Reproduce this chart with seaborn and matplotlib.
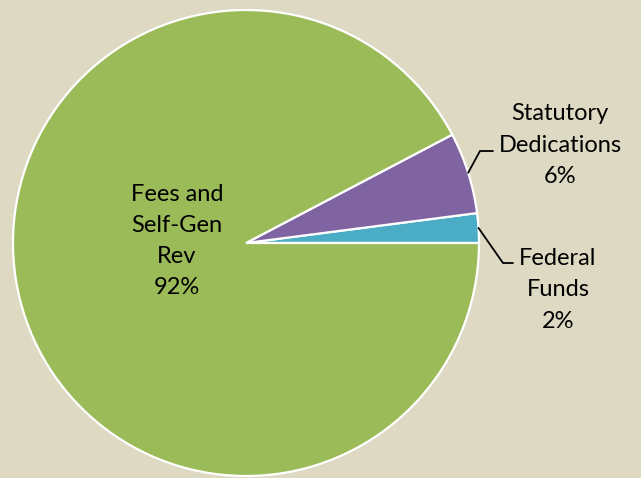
import numpy as np
import matplotlib
matplotlib.use("Agg")
import matplotlib.pyplot as plt
import seaborn as sns

sns.set_theme(style="white")
plt.rcParams['font.family'] = ['Lato', 'DejaVu Sans']

categories = ["Federal\nFunds", "Statutory\nDedications", "Fees and\nSelf-Gen\nRev"]
values = [2.05, 5.65, 92.3]
pct_labels = ["2%", "6%", "92%"]
colors = ["#4BACC6", "#8064A2", "#9BBB59"]
bg = "#DDD9C3"

W, H = 641, 478
fig = plt.figure(figsize=(W / 100, H / 100), dpi=100, facecolor=bg)
cx, cy, r = 246, 243, 233
ax = fig.add_axes([(cx - r) / W, (H - cy - r) / H, 2 * r / W, 2 * r / H])
ax.set_facecolor(bg)

wedges, _ = ax.pie(values, colors=colors, startangle=0, counterclock=True,
                   radius=1.0, wedgeprops=dict(edgecolor="white", linewidth=1.6))
ax.set_xlim(-1, 1)
ax.set_ylim(-1, 1)
ax.set_aspect("equal")
ax.axis("off")

def px(x, y):
    # convert pixel offsets (relative to reference image) into data units
    return (x - cx) / r, (cy - y) / r

fs = 17
ls = 1.6
# Fees label inside
ax.text(*px(177, 241), categories[2] + "\n" + pct_labels[2], ha="center", va="center",
        fontsize=fs, linespacing=ls, color="black")

# Statutory leader
w = wedges[1]
mid = np.deg2rad((w.theta1 + w.theta2) / 2)
sx, sy = np.cos(mid), np.sin(mid)
e1 = px(480, 151)
e2 = px(493, 151)
ax.plot([sx, e1[0], e2[0]], [sy, e1[1], e2[1]], color="black", lw=1.3, clip_on=False)
ax.text(*px(560, 145), categories[1] + "\n" + pct_labels[1], ha="center", va="center",
        fontsize=fs, linespacing=ls, color="black")

# Federal leader
w = wedges[0]
mid = np.deg2rad((w.theta1 + w.theta2) / 2)
sx, sy = np.cos(mid), np.sin(mid)
e1 = px(503, 263)
e2 = px(513, 263)
ax.plot([sx, e1[0], e2[0]], [sy, e1[1], e2[1]], color="black", lw=1.3, clip_on=False)
ax.text(*px(558, 290), categories[0] + "\n" + pct_labels[0], ha="center", va="center",
        fontsize=fs, linespacing=ls, color="black")

fig.savefig("out.png", dpi=100, facecolor=bg)
